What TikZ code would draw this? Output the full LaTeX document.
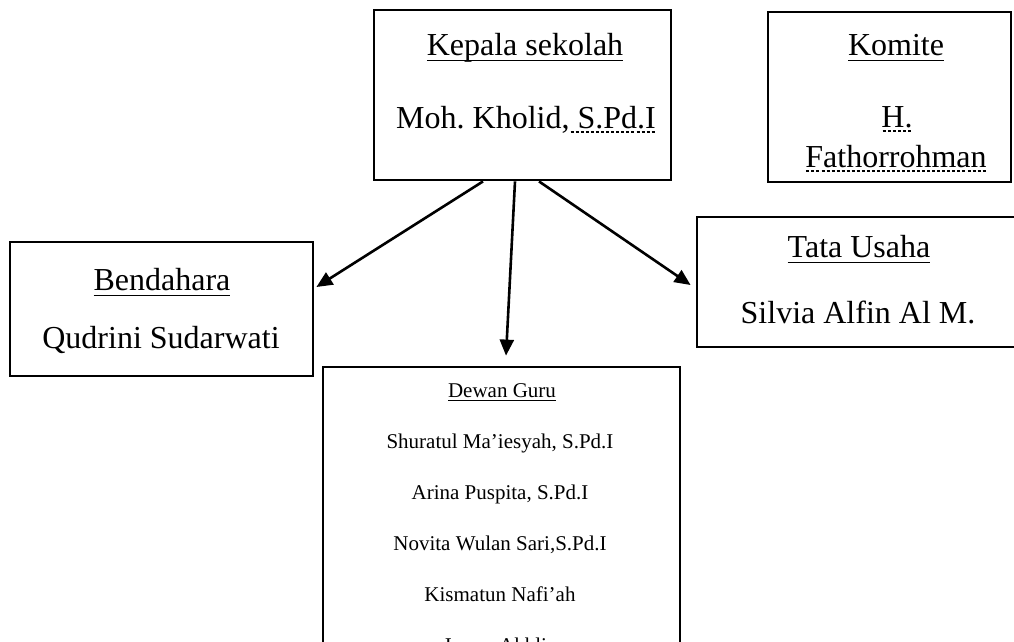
\documentclass[tikz,border=0pt]{standalone}
\usepackage{fontspec}
\setmainfont{Liberation Serif}
\usetikzlibrary{arrows.meta}
\frenchspacing
\tikzstyle{kotak}=[rectangle, draw=black, line width=2.8pt]
\tikzstyle{besar}=[anchor=base, inner sep=0pt, font=\fontsize{32}{38}\selectfont]
\tikzstyle{kecil}=[anchor=base, inner sep=0pt, font=\fontsize{21}{25}\selectfont]
\tikzstyle{arrow}=[draw=black, line width=2.6pt, -{Triangle[length=16pt,width=14pt]}]
\newcommand{\garis}[1]{\setbox0\hbox{#1}\rlap{\copy0}\rule[-6.3pt]{\wd0}{1.6pt}}
\newcommand{\garistipis}[1]{\setbox0\hbox{#1}\rlap{\copy0}\rule[-4pt]{\wd0}{1.1pt}}
\newcommand{\titik}[1]{\setbox0\hbox{#1}\rlap{\copy0}\hbox to \wd0{\xleaders\hbox to 5pt{\hss\rule[-4.6pt]{3pt}{1.2pt}\hss}\hfil}}

\begin{document}
\begin{tikzpicture}[x=1pt,y=-1pt]
		   \useasboundingbox (0,0) rectangle (1014,641);
		   \clip (0,0) rectangle (1014,641);
		   \begin{scope}
			   \node (kepala) at (522.5,95)[kotak, minimum width=297pt, minimum height=170pt] {};
			   \node (komite) at (889.5,97)[kotak, minimum width=243pt, minimum height=170pt] {};
			   \node (bendahara) at (161.5,309)[kotak, minimum width=303pt, minimum height=134pt] {};
			   \node (tata) at (863.5,282)[kotak, minimum width=333pt, minimum height=130pt] {};
			   \node (dewan) at (501.5,533.5)[kotak, minimum width=357pt, minimum height=333pt] {};
		   \end{scope}
		   \begin{scope}
			   \node (kepala1) at (525,55)[besar] {\garis{Kepala sekolah}};
			   \node (kepala2) at (526,128)[besar] {Moh. Kholid,\titik{\ S.Pd.I}};
			   \node (komite1) at (896,55)[besar] {\garis{Komite}};
			   \node (komite2) at (897,127)[besar] {\titik{H.}};
			   \node (komite3) at (896,167)[besar] {\titik{Fathorrohman}};
			   \node (bendahara1) at (162,290)[besar] {\garis{Bendahara}};
			   \node (bendahara2) at (161,348)[besar] {Qudrini Sudarwati};
			   \node (tata1) at (859,257)[besar] {\garis{Tata Usaha}};
			   \node (tata2) at (858,323)[besar] {Silvia Alfin Al M.};
			   \node (dewan1) at (502,397)[kecil] {\garistipis{Dewan Guru}};
			   \node (dewan2) at (500,448)[kecil] {Shuratul Ma’iesyah, S.Pd.I};
			   \node (dewan3) at (500,499)[kecil] {Arina Puspita, S.Pd.I};
			   \node (dewan4) at (500,550)[kecil] {Novita Wulan Sari,S.Pd.I};
			   \node (dewan5) at (500,601)[kecil] {Kismatun Nafi’ah};
			   \node (dewan6) at (500,652)[kecil] {Imam Akhlis};
		   \end{scope}
		   \begin{scope}
			   \draw [arrow] ([xshift=-39.5pt]kepala.south) -- ([xshift=2pt,yshift=22pt]bendahara.east);
			   \draw [arrow] ([xshift=-7.5pt]kepala.south) -- ([xshift=4.5pt,yshift=10pt]dewan.north);
			   \draw [arrow] ([xshift=16.5pt]kepala.south) -- ([xshift=-5pt,yshift=-3pt]tata.west);
		   \end{scope}
	   \end{tikzpicture}
\end{document}
